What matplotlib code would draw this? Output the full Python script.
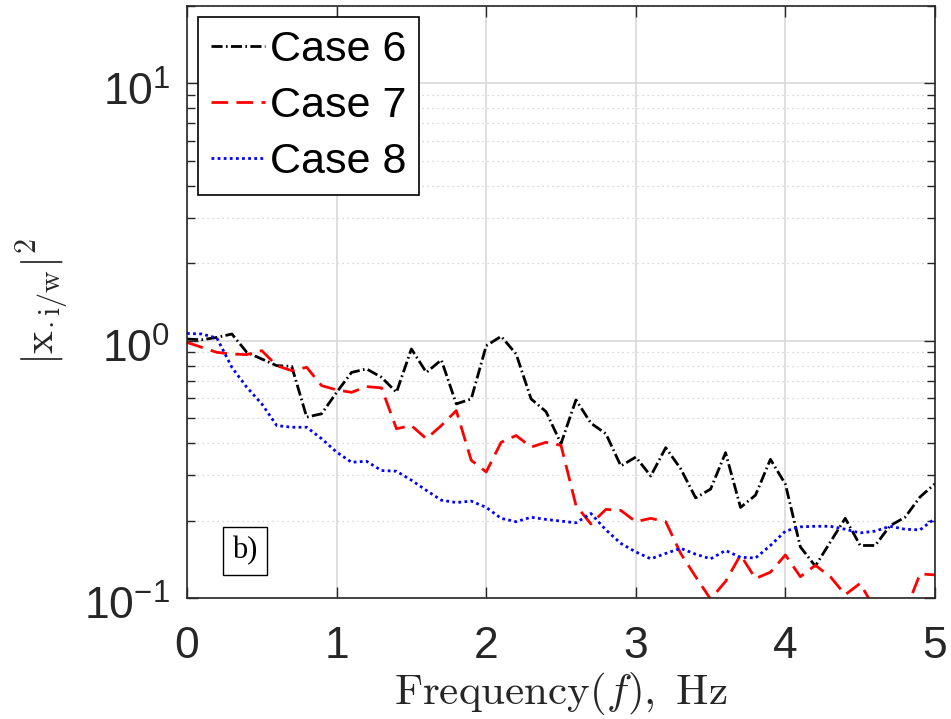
import matplotlib
matplotlib.use("Agg")
import matplotlib.pyplot as plt
import matplotlib.transforms as mtransforms
import numpy as np

plt.rcParams['font.family'] = ['Liberation Sans', 'DejaVu Sans']
plt.rcParams['mathtext.fontset'] = 'cm'

freq = [round(0.1 * i, 1) for i in range(51)]

case6 = [1.015, 1.009, 1.03, 1.062, 0.901, 0.849, 0.80, 0.795, 0.505, 0.52,
         0.63, 0.753, 0.777, 0.721, 0.63, 0.929, 0.753, 0.842, 0.568, 0.594,
         0.956, 1.04, 0.888, 0.594, 0.530, 0.398, 0.589, 0.478, 0.435, 0.326,
         0.353, 0.298, 0.384, 0.318, 0.245, 0.265, 0.367, 0.225, 0.251, 0.346,
         0.277, 0.158, 0.133, 0.165, 0.204, 0.160, 0.160, 0.191, 0.206, 0.247,
         0.278]

case7 = [0.985, 0.942, 0.901, 0.888, 0.883, 0.915, 0.80, 0.765, 0.788, 0.669,
         0.644, 0.63, 0.663, 0.656, 0.455, 0.468, 0.416, 0.468, 0.535, 0.343,
         0.309, 0.403, 0.428, 0.386, 0.403, 0.392, 0.229, 0.194, 0.221, 0.219,
         0.198, 0.204, 0.198, 0.149, 0.121, 0.099, 0.116, 0.147, 0.119, 0.126,
         0.147, 0.121, 0.134, 0.121, 0.103, 0.114, 0.090, 0.085, 0.088, 0.124,
         0.123]

case8 = [1.067, 1.062, 1.024, 0.788, 0.659, 0.568, 0.468, 0.461, 0.461, 0.416,
         0.369, 0.337, 0.340, 0.313, 0.311, 0.287, 0.262, 0.240, 0.235, 0.238,
         0.225, 0.204, 0.198, 0.206, 0.202, 0.199, 0.196, 0.213, 0.184, 0.163,
         0.151, 0.142, 0.149, 0.156, 0.148, 0.142, 0.153, 0.144, 0.143, 0.160,
         0.182, 0.189, 0.190, 0.190, 0.185, 0.179, 0.182, 0.190, 0.185, 0.184,
         0.204]

labels = ['Case 6', 'Case 7', 'Case 8']
xticks = [0, 1, 2, 3, 4, 5]
yticks = [0.1, 1, 10]
yticklabels = [r'$\mathregular{10^{-1}}$', r'$\mathregular{10^{0}}$', r'$\mathregular{10^{1}}$']

fig = plt.figure(figsize=(9.51, 7.19), dpi=100)
ax = fig.add_axes([187/951, 1 - 598/719, (935-187)/951, (598-6)/719])

lw = 2.0
ax.plot(freq, case6, color='black', lw=lw, linestyle=(0, (4, 1.2, 0.6, 1.2)), label=labels[0])
ax.plot(freq, case7, color='red', lw=lw, linestyle=(0, (6, 3)), label=labels[1])
ax.plot(freq, case8, color='blue', lw=lw, linestyle=(0, (1, 1.2)), label=labels[2])

ax.set_yscale('log')
ax.set_xlim(0, 5)
ax.set_ylim(0.1, 20)
ax.set_xticks(xticks)
ax.set_xticklabels([str(t) for t in xticks])
ax.set_yticks(yticks)
ax.set_yticklabels(yticklabels)
ax.yaxis.set_minor_locator(matplotlib.ticker.LogLocator(base=10, subs=np.arange(2, 10)))
ax.yaxis.set_minor_formatter(matplotlib.ticker.NullFormatter())

axcol = '#262626'
ax.tick_params(axis='both', which='both', direction='in', top=True, right=True,
               colors=axcol, labelsize=32)
ax.tick_params(axis='x', which='major', length=8, width=1, pad=20)
ax.tick_params(axis='y', which='major', length=8, width=1, pad=12)
ax.tick_params(axis='y', which='minor', length=6, width=1)
shift = mtransforms.ScaledTranslation(0, -5 / 100, fig.dpi_scale_trans)
for lab in ax.get_yticklabels():
    lab.set_verticalalignment('center_baseline')
    lab.set_transform(lab.get_transform() + shift)
for s in ax.spines.values():
    s.set_color(axcol)
    s.set_linewidth(1.2)

ax.grid(True, which='major', color='#d9d9d9', linestyle='-', linewidth=1.2)
ax.grid(True, which='minor', axis='y', color='#cccccc', linestyle=(0, (1, 3)), linewidth=0.9)
ax.set_axisbelow(True)

ax.set_xlabel(r'$\mathrm{Frequency}(f)\mathrm{,\ Hz}$', fontsize=31, color=axcol, labelpad=2)
ax.set_ylabel(r'$|\mathrm{x}_{\cdot\,\mathrm{i/w}}|^{2}$', fontsize=31, color=axcol, labelpad=10)

leg = ax.legend(loc='upper left', fontsize=31, frameon=True, fancybox=False,
                edgecolor='black', framealpha=1, handlelength=1.25, handletextpad=0.12,
                labelspacing=0.38, borderpad=0.3, borderaxespad=0.25)
leg.get_frame().set_linewidth(1.2)

ax.text(0.0775, 0.0797, 'b)', transform=ax.transAxes, fontsize=22,
        family='Liberation Serif', ha='center', va='center',
        bbox=dict(boxstyle='square,pad=0.3', facecolor='white', edgecolor='black', linewidth=1))

fig.savefig('out.png', dpi=100)
